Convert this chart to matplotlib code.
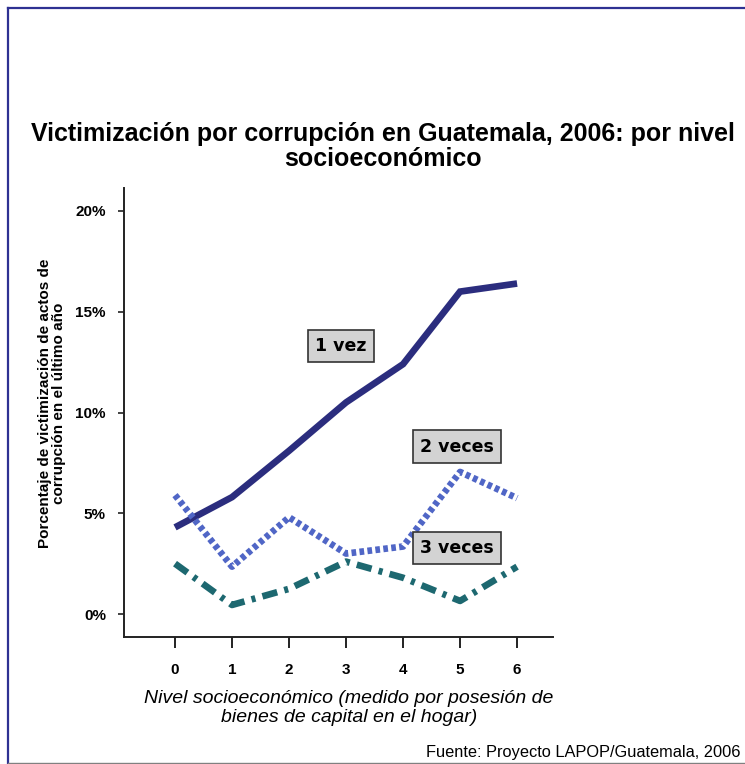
import matplotlib
matplotlib.use("Agg")
import matplotlib.pyplot as plt
from matplotlib.lines import Line2D
from matplotlib.ticker import FuncFormatter

plt.rcParams['font.family'] = ['Liberation Sans', 'DejaVu Sans']

niveles = [0, 1, 2, 3, 4, 5, 6]
una_vez = [4.3, 5.8, 8.1, 10.5, 12.4, 16.0, 16.4]
dos_veces = [5.9, 2.35, 4.8, 3.0, 3.35, 7.05, 5.75]
tres_veces = [2.5, 0.45, 1.25, 2.6, 1.8, 0.65, 2.35]
y_ticks = [0, 5, 10, 15, 20]

titulo = "Victimización por corrupción en Guatemala, 2006: por nivel\nsocioeconómico"
etiqueta_y = "Porcentaje de victimización de actos de\ncorrupción en el último año"
etiqueta_x = "Nivel socioeconómico (medido por posesión de\nbienes de capital en el hogar)"
fuente = "Fuente: Proyecto LAPOP/Guatemala, 2006"

W, H = 745, 764
fig = plt.figure(figsize=(W / 100, H / 100), dpi=100)
fig.patch.set_facecolor("white")

# outer frame: blue top/left, gray bottom
fig.add_artist(Line2D([8 / W, 1.0], [1 - 8 / H, 1 - 8 / H], color="#2E3192", lw=1.6))
fig.add_artist(Line2D([8 / W, 8 / W], [1 - 8 / H, 1 / H], color="#2E3192", lw=1.6))
fig.add_artist(Line2D([8 / W, 1.0], [1.5 / H, 1.5 / H], color="#808080", lw=1.0))

ax = fig.add_axes([124 / W, 127 / H, 429 / W, 449 / H])
ax.set_facecolor("white")

ax.plot(niveles, una_vez, color="#2B2D7E", lw=4.8, solid_joinstyle="miter",
        solid_capstyle="butt")
ax.plot(niveles, dos_veces, color="#5066C6", lw=4.8, linestyle=(0, (0.7, 0.5)),
        dash_capstyle="butt")
ax.plot(niveles, tres_veces, color="#1D6870", lw=4.8,
        linestyle=(0, (2.3, 1.1, 0.6, 1.1)), dash_capstyle="butt")

ax.set_xlim(-0.895, 6.63)
ax.set_ylim(-1.14, 21.14)
ax.set_xticks(niveles)
ax.set_yticks(y_ticks)
ax.yaxis.set_major_formatter(FuncFormatter(lambda v, p: f"{int(v)}%"))

for s in ["top", "right"]:
    ax.spines[s].set_visible(False)
for s in ["left", "bottom"]:
    ax.spines[s].set_linewidth(1.4)
    ax.spines[s].set_color("#222222")

ax.tick_params(axis="x", length=8, width=1.4, pad=11, color="#222222")
ax.tick_params(axis="y", length=4, width=1.2, pad=9, color="#222222")
for lbl in ax.get_xticklabels() + ax.get_yticklabels():
    lbl.set_fontweight("bold")
    lbl.set_fontsize(11)

box = dict(boxstyle="square,pad=0.42", facecolor="#D3D3D3", edgecolor="#333333", lw=1.2)
lab_font = dict(fontsize=12.5, fontweight="bold", family=["DejaVu Sans"],
                ha="center", va="center", bbox=box)
ax.text(2.91, 13.3, "1 vez", **lab_font)
ax.text(4.95, 8.3, "2 veces", **lab_font)
ax.text(4.95, 3.28, "3 veces", **lab_font)

fig.text(383 / W, 1 - 146.5 / H, titulo, fontsize=18, fontweight="bold",
         ha="center", va="center", linespacing=1.1)
fig.text(52 / W, 1 - 403 / H, etiqueta_y, fontsize=11, fontweight="bold",
         rotation=90, ha="center", va="center", linespacing=1.05)
fig.text(349 / W, 1 - 708 / H, etiqueta_x, fontsize=14, fontstyle="italic",
         ha="center", va="center", linespacing=1.12)
fig.text(740 / W, 1 - 752 / H, fuente, fontsize=11.8, ha="right", va="center")

fig.savefig("out.png", dpi=100, facecolor="white")
